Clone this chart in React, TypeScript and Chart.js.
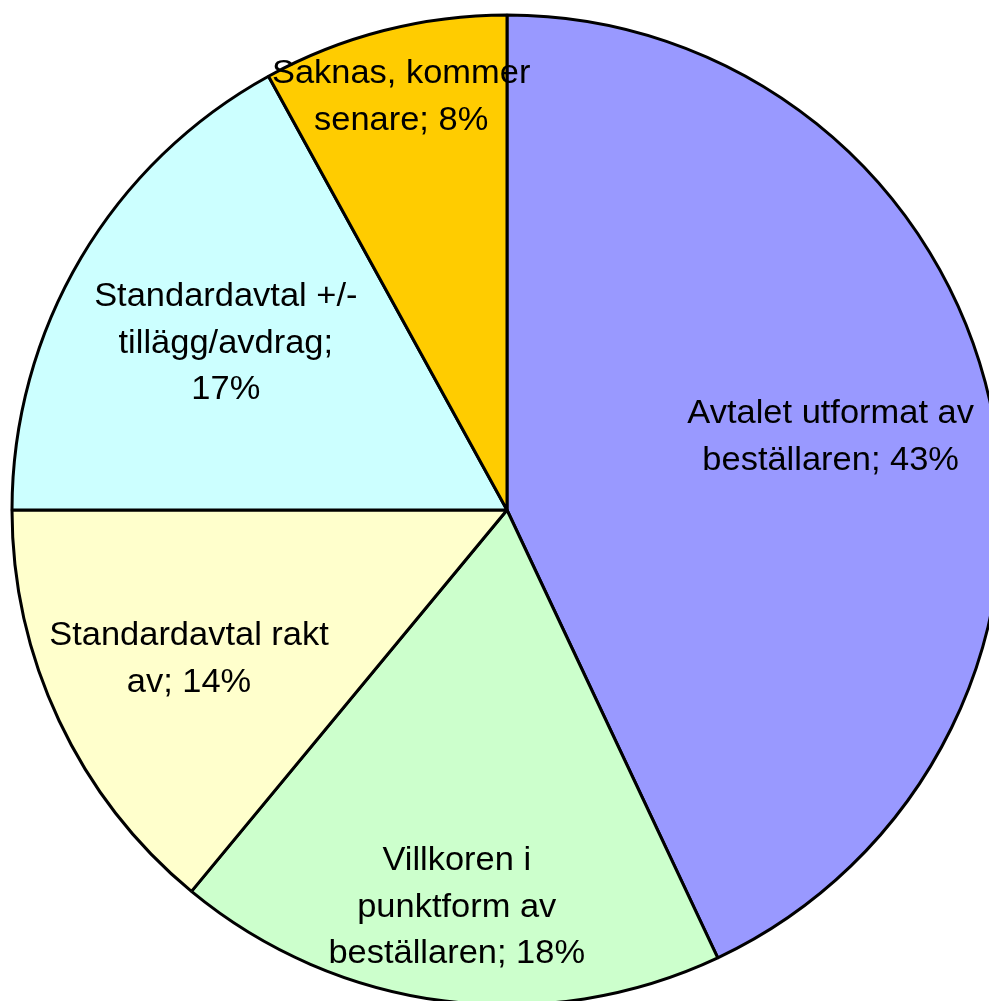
import React, { useEffect, useRef } from "react";
import { Chart, registerables } from "chart.js";

Chart.register(...registerables);

const categories = [
  ["Avtalet utformat av", "beställaren; 43%"],
  ["Villkoren i", "punktform av", "beställaren; 18%"],
  ["Standardavtal rakt", "av; 14%"],
  ["Standardavtal +/-", "tillägg/avdrag;", "17%"],
  ["Saknas, kommer", "senare; 8%"],
];
const values = [43, 18, 14, 17, 8];
const colors = ["#9999FF", "#CCFFCC", "#FFFFCC", "#CCFFFF", "#FFCC00"];
// radial position of each label as fraction of radius
const labelRadius = [0.67, 0.81, 0.71, 0.66, 0.86];

const labelPlugin = {
  id: "sliceLabels",
  afterDatasetsDraw(chart: any) {
    const ctx = chart.ctx;
    const meta = chart.getDatasetMeta(0);
    const sx = 1.06;
    ctx.save();
    ctx.font = "32.5px 'Liberation Sans', Arial, sans-serif";
    ctx.fillStyle = "#000";
    ctx.textAlign = "center";
    ctx.textBaseline = "middle";
    meta.data.forEach((arc: any, i: number) => {
      const { x, y, startAngle, endAngle, outerRadius } = arc.getProps(
        ["x", "y", "startAngle", "endAngle", "outerRadius"],
        true
      );
      const mid = (startAngle + endAngle) / 2;
      const r = outerRadius * labelRadius[i];
      const cx = x + Math.cos(mid) * r;
      const cy = y + Math.sin(mid) * r;
      const lines = categories[i];
      const lh = 46.5;
      lines.forEach((line, j) => {
        const ly = cy + (j - (lines.length - 1) / 2) * lh;
        ctx.save();
        ctx.translate(cx, ly);
        ctx.scale(sx, 1);
        ctx.fillText(line, 0, 0);
        ctx.restore();
      });
    });
    ctx.restore();
  },
};

export default function App() {
  const ref = useRef<HTMLCanvasElement>(null);
  useEffect(() => {
    if (!ref.current) return;
    const chart = new Chart(ref.current, {
      type: "pie",
      data: {
        labels: categories.map((c) => c.join(" ")),
        datasets: [
          {
            data: values,
            backgroundColor: colors,
            borderColor: "#000000",
            borderWidth: 3,
            radius: 495,
          } as any,
        ],
      },
      options: {
        responsive: false,
        animation: false,
        layout: { padding: 0 },
        plugins: {
          legend: { display: false },
          tooltip: { enabled: false },
        },
      },
      plugins: [labelPlugin],
    });
    return () => chart.destroy();
  }, []);
  return (
    <div
      style={{
        position: "fixed",
        left: 0,
        top: 0,
        width: 989,
        height: 1001,
        overflow: "hidden",
        background: "#fff",
      }}
    >
      <canvas
        ref={ref}
        width={1014}
        height={1020}
        style={{ position: "absolute", left: 0, top: 0, width: 1014, height: 1020 }}
      />
    </div>
  );
}
